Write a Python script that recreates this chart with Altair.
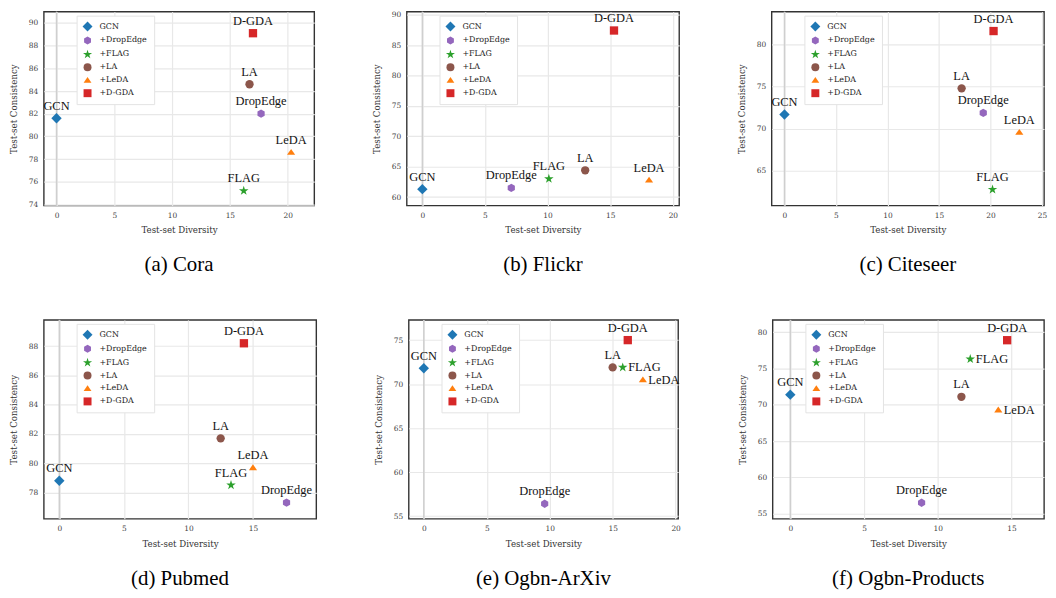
import altair as alt
import pandas as pd

# ---------------- data ----------------
methods = ["GCN", "+DropEdge", "+FLAG", "+LA", "+LeDA", "+D-GDA"]
point_labels = ["GCN", "DropEdge", "FLAG", "LA", "LeDA", "D-GDA"]

captions = ["(a) Cora", "(b) Flickr", "(c) Citeseer",
            "(d) Pubmed", "(e) Ogbn-ArXiv", "(f) Ogbn-Products"]

cora_div = [0.0, 17.7, 16.2, 16.7, 20.3, 17.0]
cora_con = [81.6, 82.0, 75.2, 84.6, 78.6, 89.1]
flickr_div = [0.0, 7.1, 10.1, 13.0, 18.1, 15.3]
flickr_con = [61.3, 61.5, 63.0, 64.4, 62.8, 87.4]
citeseer_div = [0.0, 19.3, 20.2, 17.2, 22.8, 20.3]
citeseer_con = [71.7, 71.9, 62.8, 74.8, 69.6, 81.6]
pubmed_div = [0.0, 17.6, 13.3, 12.5, 15.0, 14.3]
pubmed_con = [78.8, 77.3, 78.5, 81.7, 79.7, 88.2]
arxiv_div = [0.0, 9.6, 15.8, 15.0, 17.4, 16.2]
arxiv_con = [71.8, 56.4, 71.9, 71.9, 70.5, 75.0]
products_div = [0.0, 8.9, 12.2, 11.6, 14.1, 14.7]
products_con = [71.4, 56.5, 76.3, 71.1, 69.3, 78.9]

# label placement (above the point or to its right)
pos_top = ["top", "top", "top", "top", "top", "top"]
pos_mixed = ["top", "top", "right", "top", "right", "top"]

# tick labels
x_ticks_20 = [0, 5, 10, 15, 20]
x_ticks_25 = [0, 5, 10, 15, 20, 25]
x_ticks_15 = [0, 5, 10, 15]
y_ticks_cora = [74, 76, 78, 80, 82, 84, 86, 88, 90]
y_ticks_flickr = [60, 65, 70, 75, 80, 85, 90]
y_ticks_citeseer = [65, 70, 75, 80]
y_ticks_pubmed = [78, 80, 82, 84, 86, 88]
y_ticks_arxiv = [55, 60, 65, 70, 75]
y_ticks_products = [55, 60, 65, 70, 75, 80]

zero_line = [0]

# ---------------- styles ----------------
colors = ["#1f77b4", "#9467bd", "#2ca02c", "#8c564b", "#ff7f0e", "#d62728"]
DIAMOND = "M0,-1.25L1.25,0L0,1.25L-1.25,0Z"
HEXAGON = "M0,-1L0.866,-0.5L0.866,0.5L0,1L-0.866,0.5L-0.866,-0.5Z"
STAR = ("M0,-1.2L0.269,-0.371L1.141,-0.371L0.436,0.142L0.705,0.971L0,0.458"
        "L-0.705,0.971L-0.436,0.142L-1.141,-0.371L-0.269,-0.371Z")
TRIANGLE = "M0,-0.8L0.98,0.62L-0.98,0.62Z"
shapes = [DIAMOND, HEXAGON, STAR, "circle", TRIANGLE, "square"]

SERIF = "Liberation Serif"
AXFONT = "DejaVu Serif"


def panel(div, con, pos, caption, xdom, ydom, xticks, yticks, w, h):
    df = pd.DataFrame({"method": methods, "label": point_labels,
                       "div": div, "con": con, "pos": pos})
    base = alt.Chart(df)
    x = alt.X("div:Q", scale=alt.Scale(domain=xdom, nice=False, zero=False),
              axis=alt.Axis(values=xticks, title="Test-set Diversity", format="d"))
    y = alt.Y("con:Q", scale=alt.Scale(domain=ydom, nice=False, zero=False),
              axis=alt.Axis(values=yticks, title="Test-set Consistency", format="d"))
    leg = alt.Legend(title=None, orient="none", legendX=33, legendY=4)

    zero = alt.Chart(pd.DataFrame({"div": zero_line})).mark_rule(
        color="#cfcfcf", strokeWidth=1.5).encode(x=x)

    pts = base.mark_point(filled=True, opacity=1, size=70, strokeWidth=0).encode(
        x=x, y=y,
        color=alt.Color("method:N", scale=alt.Scale(domain=methods, range=colors), legend=leg),
        shape=alt.Shape("method:N", scale=alt.Scale(domain=methods, range=shapes), legend=leg),
    )
    txt_top = base.transform_filter(alt.datum.pos == "top").mark_text(
        dy=-12.5, baseline="middle", align="center", font=SERIF, fontSize=12.5,
        color="#111").encode(x=x, y=y, text="label:N")
    txt_right = base.transform_filter(alt.datum.pos == "right").mark_text(
        dx=5.5, baseline="middle", align="left", font=SERIF, fontSize=12.5,
        color="#111").encode(x=x, y=y, text="label:N")

    return alt.layer(zero, pts, txt_top, txt_right).properties(
        width=w, height=h,
        title=alt.TitleParams(caption, orient="bottom", anchor="middle", offset=20,
                              font=SERIF, fontSize=21, fontWeight="normal", color="black"),
    )


a = panel(cora_div, cora_con, pos_top, captions[0], [-1.1, 22.3], [73.9, 91.0],
          x_ticks_20, y_ticks_cora, 272, 195)
b = panel(flickr_div, flickr_con, pos_top, captions[1], [-1.25, 20.5], [58.6, 90.5],
          x_ticks_20, y_ticks_flickr, 274, 195)
c = panel(citeseer_div, citeseer_con, pos_top, captions[2], [-1.25, 25.2], [60.9, 83.9],
          x_ticks_25, y_ticks_citeseer, 274, 195)
d = panel(pubmed_div, pubmed_con, pos_top, captions[3], [-1.2, 19.9], [76.2, 89.8],
          x_ticks_15, y_ticks_pubmed, 274, 200)
e = panel(arxiv_div, arxiv_con, pos_mixed, captions[4], [-1.2, 20.2], [54.7, 77.3],
          x_ticks_20, y_ticks_arxiv, 271, 200)
f = panel(products_div, products_con, pos_mixed, captions[5], [-1.2, 17.2], [54.3, 81.7],
          x_ticks_15, y_ticks_products, 273, 200)

indep = dict(x="independent", y="independent", color="independent", shape="independent")
row1 = alt.hconcat(a, b, c, spacing=56).resolve_scale(**indep)
row2 = alt.hconcat(d, e, f, spacing=56).resolve_scale(**indep)

chart = alt.vconcat(row1, row2, spacing=42).resolve_scale(**indep).properties(
    padding={"left": 0, "top": 0, "right": 0, "bottom": 0}
).configure_view(
    stroke="#333", strokeWidth=1.4
).configure_axis(
    grid=True, gridColor="#e8e8e8", gridWidth=1.2, domain=False, ticks=False,
    labelPadding=6, labelFont=AXFONT, labelFontSize=7.5, labelColor="#444",
    titleFont=AXFONT, titleFontSize=8.7, titleFontWeight="normal", titleColor="#333",
).configure_axisX(titlePadding=7).configure_axisY(titlePadding=10).configure_legend(
    fillColor="white", strokeColor="#e3e3e3", padding=7, labelFont=AXFONT,
    labelFontSize=8, labelColor="#222", symbolSize=64, rowPadding=5,
    labelOffset=8, symbolStrokeWidth=0, cornerRadius=0,
)

chart.save("out.html", embed_options={"renderer": "svg", "actions": False})
